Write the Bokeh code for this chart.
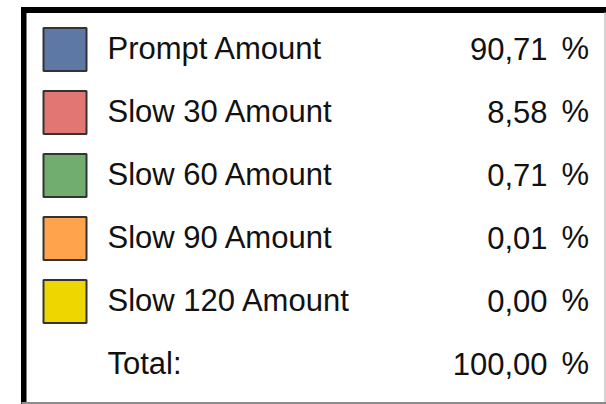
from bokeh.plotting import figure
from bokeh.models import Range1d, ColumnDataSource
from bokeh.core.properties import value
from bokeh.embed import file_html
from bokeh.resources import INLINE

# ---- data ----
categories = ["Prompt Amount", "Slow 30 Amount", "Slow 60 Amount", "Slow 90 Amount", "Slow 120 Amount"]
shares = [90.71, 8.58, 0.71, 0.01, 0.00]
colors = ["#5d78a5", "#e27672", "#71ad6e", "#ffa34c", "#eed700"]
total_label = "Total:"
total_value = 100.00


def fmt(v):
    return f"{v:.2f}".replace(".", ",")


# ---- layout constants (pixels) ----
W, H = 606, 404
ROW0, PITCH = 49, 63
SW_X, SW = 64.5, 43
LABEL_X = 107
VALUE_RX = 547
PCT_X = 561
FONT = value("Liberation Sans")
FS = "31px"
TXT = "#111111"
YOFF = -1

p = figure(width=W, height=H, output_backend="svg", toolbar_location=None,
           x_range=Range1d(0, W), y_range=Range1d(H, 0), min_border=0)
p.axis.visible = False
p.grid.visible = False
p.outline_line_color = None
p.background_fill_color = "white"
p.border_fill_color = "white"

# frame
p.quad(left=[21], right=[W], top=[7], bottom=[12], color="black")
p.quad(left=[21], right=[25.5], top=[7], bottom=[H], color="black")
p.segment(x0=[604.5], y0=[12], x1=[604.5], y1=[H], line_color="#c4c4c4", line_width=1.5)
p.segment(x0=[21], y0=[402.5], x1=[W], y1=[402.5], line_color="#8c8c8c", line_width=2)

rows = list(range(len(categories)))
src = ColumnDataSource(dict(
    y=[ROW0 + PITCH * i for i in rows],
    cat=categories,
    val=[fmt(v) for v in shares],
    pct=["%"] * len(rows),
    color=colors,
))

p.rect(x=SW_X, y="y", width=SW, height=SW, source=src, fill_color="color",
       line_color="#333333", line_width=2)

for xx, col, al in [(LABEL_X, "cat", "left"), (VALUE_RX, "val", "right"), (PCT_X, "pct", "left")]:
    p.text(x=xx, y="y", text=col, source=src, text_font=FONT, text_font_size=FS,
           text_color=TXT, text_baseline="alphabetic", text_align=al, y_offset=YOFF)

ty = ROW0 + PITCH * len(rows)
tsrc = ColumnDataSource(dict(y=[ty], lab=[total_label], val=[fmt(total_value)], pct=["%"]))
for xx, col, al in [(LABEL_X, "lab", "left"), (VALUE_RX, "val", "right"), (PCT_X, "pct", "left")]:
    p.text(x=xx, y="y", text=col, source=tsrc, text_font=FONT, text_font_size=FS,
           text_color=TXT, text_baseline="alphabetic", text_align=al, y_offset=YOFF)

open("out.html", "w").write(file_html(p, INLINE))
